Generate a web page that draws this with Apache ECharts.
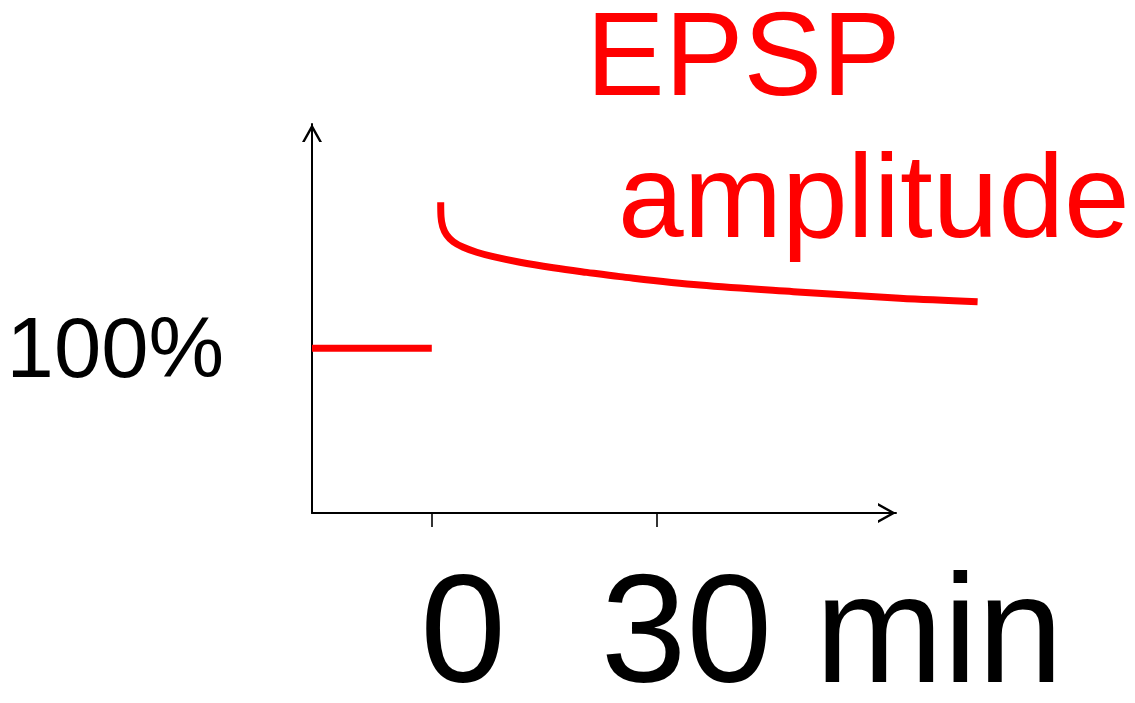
<!DOCTYPE html>
<html>
<head>
<meta charset="utf-8">
<title>EPSP amplitude</title>
<script src="https://cdn.jsdelivr.net/npm/echarts@6/dist/echarts.min.js"></script>
<style>
  html, body { margin: 0; padding: 0; background: #ffffff; }
  #chart { width: 1135px; height: 703px; }
</style>
</head>
<body>
<div id="chart"></div>
<script>
// Time axis (minutes) and amplitude axis (% of baseline)
const timeRange = [-16, 62];
const traceTimeRange = [-16, 74];
const amplitudeRange = [0, 236];
const timeTicks = [0, 30];
const timeTickLabels = ['0', '30 min'];
const amplitudeTicks = [100];

// Baseline before induction
const baselineTime = [-16, 0];
const baselineAmplitude = [100, 100];

// Potentiated response after induction
const ltpTime = [1.19, 1.23, 1.46, 1.99, 2.87, 4.21, 6.0, 8.21, 11.78, 16.23, 20.69, 25.14, 35.8, 48.3, 62.5, 72.9];
const ltpAmplitude = [188.5, 179.8, 173.7, 168.7, 164.6, 161.2, 158.2, 155.5, 152.1, 148.8, 146.0, 143.4, 138.3, 134.3, 130.3, 128.2];

const titleLines = ['EPSP', 'amplitude'];

const zip = (xs, ys) => xs.map((x, i) => [x, ys[i]]);

// open chevron arrow head, pointing up in its own box
const chevron = 'path://M10,0 L20,18 L17.3,18 L10,4.9 L2.7,18 L0,18 Z';

const FONT = '"Liberation Sans", Arial, sans-serif';
const RED = '#ff0000';

// plot geometry: the axes grid ends at the arrow tips, the trace grid
// shares its origin and scale but runs further to the right
const plotLeft = 312, plotTop = 124, plotBottom = 190, axesRight = 239;
const pxPerMinute = (1135 - plotLeft - axesRight) / (timeRange[1] - timeRange[0]);
const traceRight = 1135 - plotLeft - pxPerMinute * (traceTimeRange[1] - traceTimeRange[0]);

const chart = echarts.init(document.getElementById('chart'), null, { renderer: 'canvas' });

const axisLineStyle = {
  show: true,
  onZero: false,
  symbol: ['none', chevron],
  symbolSize: [20, 18],
  symbolOffset: [0, -9],
  lineStyle: { color: '#000000', width: 2 }
};

chart.setOption({
  animation: false,
  backgroundColor: '#ffffff',
  grid: [
    { left: plotLeft, right: axesRight, top: plotTop, bottom: plotBottom, containLabel: false },
    { left: plotLeft, right: traceRight, top: plotTop, bottom: plotBottom, containLabel: false }
  ],
  xAxis: [
    {
      gridIndex: 0,
      type: 'value',
      min: timeRange[0],
      max: timeRange[1],
      splitLine: { show: false },
      axisLine: axisLineStyle,
      axisTick: {
        show: true,
        customValues: timeTicks,
        length: 14,
        lineStyle: { color: '#000000', width: 1.6 }
      },
      axisLabel: { show: false }
    },
    {
      gridIndex: 1,
      type: 'value',
      min: traceTimeRange[0],
      max: traceTimeRange[1],
      show: false
    }
  ],
  yAxis: [
    {
      gridIndex: 0,
      type: 'value',
      min: amplitudeRange[0],
      max: amplitudeRange[1],
      splitLine: { show: false },
      axisLine: axisLineStyle,
      axisTick: { show: false },
      axisLabel: {
        show: true,
        customValues: amplitudeTicks,
        formatter: v => '{pct|' + v + '%}',
        margin: 88,
        rich: {
          pct: {
            fontSize: 85,
            fontFamily: FONT,
            color: '#000000',
            padding: [11, 0, 0, 0]
          }
        }
      }
    },
    {
      gridIndex: 1,
      type: 'value',
      min: amplitudeRange[0],
      max: amplitudeRange[1],
      show: false
    }
  ],
  series: [
    {
      type: 'line',
      xAxisIndex: 1,
      yAxisIndex: 1,
      data: zip(baselineTime, baselineAmplitude),
      showSymbol: false,
      lineStyle: { color: RED, width: 7, cap: 'butt' }
    },
    {
      type: 'line',
      xAxisIndex: 1,
      yAxisIndex: 1,
      data: zip(ltpTime, ltpAmplitude),
      showSymbol: false,
      smooth: 0.35,
      lineStyle: { color: RED, width: 7, cap: 'butt', join: 'round' }
    }
  ]
});

// Tick labels sit to the right of their ticks, baseline under the axis
const tickLabelOffsets = [-11.5, -55.6];
const tickLabels = timeTicks.map((t, i) => {
  const px = chart.convertToPixel({ xAxisIndex: 0, yAxisIndex: 0 }, [t, 0]);
  return {
    type: 'text',
    x: px[0] + tickLabelOffsets[i],
    y: 640,
    style: {
      text: timeTickLabels[i],
      font: '154px ' + FONT,
      fill: '#000000',
      align: 'left',
      verticalAlign: 'middle'
    }
  };
});

const titleTexts = [
  { text: titleLines[0], x: 586, y: 62 },
  { text: titleLines[1], x: 618, y: 204 }
].map(t => ({
  type: 'text',
  x: t.x,
  y: t.y,
  style: {
    text: t.text,
    font: '118px ' + FONT,
    fill: RED,
    align: 'left',
    verticalAlign: 'middle'
  }
}));

chart.setOption({ graphic: tickLabels.concat(titleTexts) });
</script>
</body>
</html>
